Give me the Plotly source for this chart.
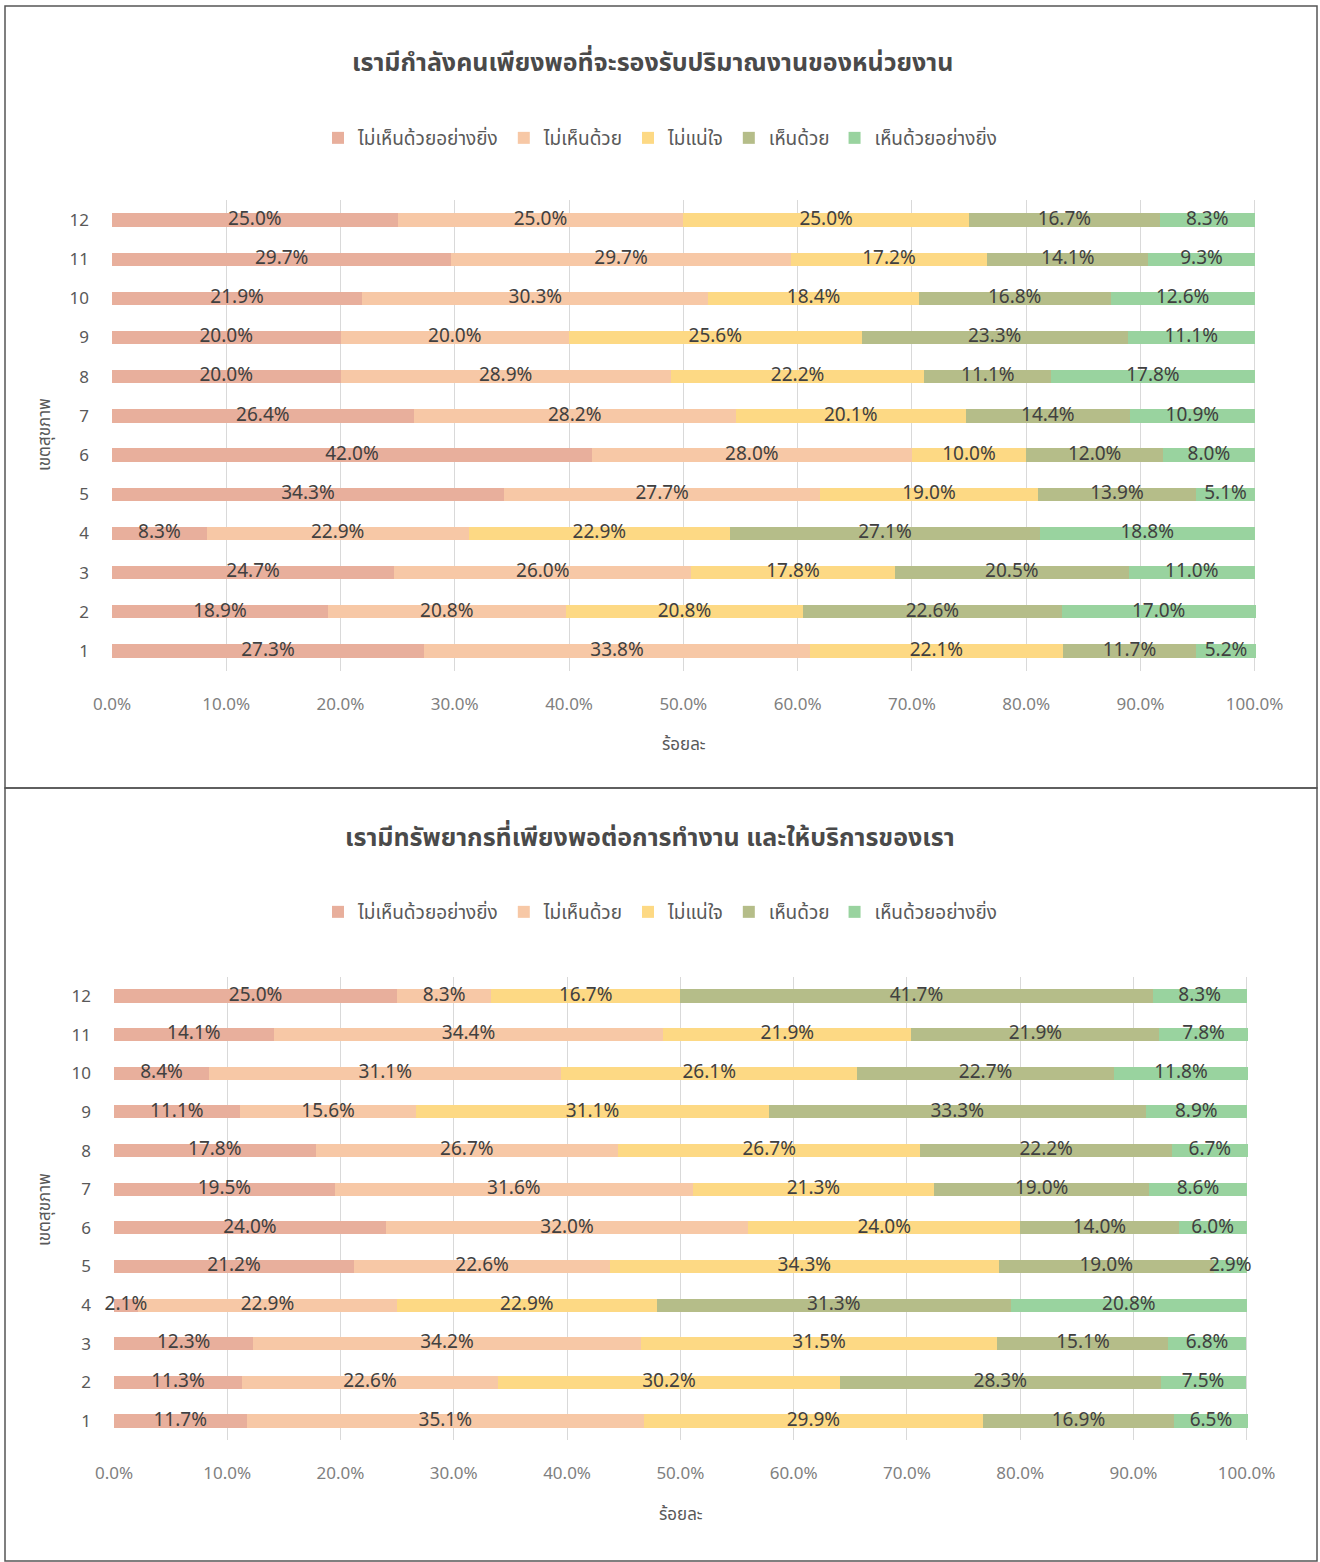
import plotly.graph_objects as go

regions = ["12", "11", "10", "9", "8", "7", "6", "5", "4", "3", "2", "1"]
series_names = ["ไม่เห็นด้วยอย่างยิ่ง", "ไม่เห็นด้วย", "ไม่แน่ใจ", "เห็นด้วย", "เห็นด้วยอย่างยิ่ง"]
colors = ["#E8AF9C", "#F7C8A6", "#FDD984", "#B5BD89", "#99D39F"]

title1 = "เรามีกำลังคนเพียงพอที่จะรองรับปริมาณงานของหน่วยงาน"
title2 = "เรามีทรัพยากรที่เพียงพอต่อการทำงาน และให้บริการของเรา"
x_title = "ร้อยละ"
y_title = "เขตสุขภาพ"

# chart 1 values per series, rows ordered as regions (12 -> 1)
c1_strong_disagree = [25.0, 29.7, 21.9, 20.0, 20.0, 26.4, 42.0, 34.3, 8.3, 24.7, 18.9, 27.3]
c1_disagree = [25.0, 29.7, 30.3, 20.0, 28.9, 28.2, 28.0, 27.7, 22.9, 26.0, 20.8, 33.8]
c1_unsure = [25.0, 17.2, 18.4, 25.6, 22.2, 20.1, 10.0, 19.0, 22.9, 17.8, 20.8, 22.1]
c1_agree = [16.7, 14.1, 16.8, 23.3, 11.1, 14.4, 12.0, 13.9, 27.1, 20.5, 22.6, 11.7]
c1_strong_agree = [8.3, 9.3, 12.6, 11.1, 17.8, 10.9, 8.0, 5.1, 18.8, 11.0, 17.0, 5.2]

c2_strong_disagree = [25.0, 14.1, 8.4, 11.1, 17.8, 19.5, 24.0, 21.2, 2.1, 12.3, 11.3, 11.7]
c2_disagree = [8.3, 34.4, 31.1, 15.6, 26.7, 31.6, 32.0, 22.6, 22.9, 34.2, 22.6, 35.1]
c2_unsure = [16.7, 21.9, 26.1, 31.1, 26.7, 21.3, 24.0, 34.3, 22.9, 31.5, 30.2, 29.9]
c2_agree = [41.7, 21.9, 22.7, 33.3, 22.2, 19.0, 14.0, 19.0, 31.3, 15.1, 28.3, 16.9]
c2_strong_agree = [8.3, 7.8, 11.8, 8.9, 6.7, 8.6, 6.0, 2.9, 20.8, 6.8, 7.5, 6.5]

x_tick_vals = [0, 10, 20, 30, 40, 50, 60, 70, 80, 90, 100]
x_tick_text = ["0.0%", "10.0%", "20.0%", "30.0%", "40.0%", "50.0%", "60.0%", "70.0%", "80.0%", "90.0%", "100.0%"]

chart1 = [c1_strong_disagree, c1_disagree, c1_unsure, c1_agree, c1_strong_agree]
chart2 = [c2_strong_disagree, c2_disagree, c2_unsure, c2_agree, c2_strong_agree]

W, H = 1320, 1562
FONT = "Noto Sans Thai, Tahoma, Open Sans, Noto Sans, sans-serif"
TXT = "#404040"
GRAY = "#595959"

fig = go.Figure()

for data, xa, ya, lg in [(chart1, "x", "y", "legend"), (chart2, "x2", "y2", "legend2")]:
    for name, vals, col in zip(series_names, data, colors):
        fig.add_trace(go.Bar(
            y=regions, x=vals, name=name, orientation="h",
            marker=dict(color=col, line=dict(width=0)),
            width=0.34, xaxis=xa, yaxis=ya, legend=lg, hoverinfo="skip",
        ))
    # value labels drawn on top of all bars, centred in each stacked segment
    base = [0.0] * len(regions)
    for name, vals in zip(series_names, data):
        mids = [b + v / 2 for b, v in zip(base, vals)]
        base = [b + v for b, v in zip(base, vals)]
        fig.add_trace(go.Scatter(
            y=regions, x=mids, mode="text", text=[f"{v:.1f}%" for v in vals],
            textposition="middle center", cliponaxis=False, showlegend=False,
            textfont=dict(color=TXT, size=19, family=FONT),
            xaxis=xa, yaxis=ya, hoverinfo="skip",
        ))

def px_y(py):
    return 1 - py / H

axis_common = dict(range=[0, 100.12], tickvals=x_tick_vals, ticktext=x_tick_text,
                   showgrid=True, gridcolor="#D9D9D9", gridwidth=1, zeroline=False,
                   showline=False, ticks="", tickfont=dict(size=17, color="#7F7F7F", family=FONT),
                   ticklabelstandoff=21, fixedrange=True, automargin=False)
yaxis_common = dict(categoryorder="array", categoryarray=regions[::-1], showgrid=False,
                    range=[-0.5, len(regions) - 0.5],
                    zeroline=False, showline=False, ticks="",
                    tickfont=dict(size=17, color=GRAY, family=FONT), ticklabelstandoff=22,
                    fixedrange=True, automargin=False)

legend_common = dict(orientation="h", xanchor="center", x=0.5, yanchor="middle",
                     font=dict(size=19, color=GRAY, family=FONT), bgcolor="rgba(0,0,0,0)",
                     traceorder="normal", itemclick=False, itemdoubleclick=False)

def ann(text, x, y, size, color, bold=False, angle=0):
    return dict(text=f"<b>{text}</b>" if bold else text, x=x / W, y=px_y(y),
                xref="paper", yref="paper", showarrow=False, xanchor="center",
                yanchor="middle", textangle=angle,
                font=dict(size=size, color=color, family=FONT))

fig.update_layout(
    width=W, height=H, margin=dict(l=0, r=0, t=0, b=0, autoexpand=False),
    paper_bgcolor="white", plot_bgcolor="white",
    barmode="stack", showlegend=True,
    font=dict(family=FONT, color=TXT),
    xaxis=dict(domain=[112 / W, 1256 / W], anchor="y", **axis_common),
    yaxis=dict(domain=[px_y(670.6), px_y(200.4)], anchor="x", **yaxis_common),
    xaxis2=dict(domain=[114 / W, 1248 / W], anchor="y2", **axis_common),
    yaxis2=dict(domain=[px_y(1440.3), px_y(976.7)], anchor="x2", **yaxis_common),
    legend=dict(y=px_y(138), **legend_common),
    legend2=dict(y=px_y(912), **legend_common),
    shapes=[
        dict(type="rect", xref="paper", yref="paper", x0=5 / W, x1=1317 / W,
             y0=px_y(788), y1=px_y(6), line=dict(color="#555555", width=1.5)),
        dict(type="rect", xref="paper", yref="paper", x0=5 / W, x1=1317 / W,
             y0=px_y(1561), y1=px_y(788), line=dict(color="#555555", width=1.5)),
    ],
    annotations=[
        ann(title1, 652, 63, 25, "#4a4a4a", bold=True),
        ann(title2, 650, 838, 25, "#4a4a4a", bold=True),
        ann(x_title, 684, 745, 17, GRAY),
        ann(x_title, 681, 1515, 17, GRAY),
        ann(y_title, 45, 435, 17, GRAY, angle=-90),
        ann(y_title, 45, 1210, 17, GRAY, angle=-90),
    ],
)

fig.write_html(
    "out.html",
    config={"displayModeBar": False},
    post_script="document.body.style.margin='0';document.body.style.padding='0';document.documentElement.style.overflow='hidden';",
)
